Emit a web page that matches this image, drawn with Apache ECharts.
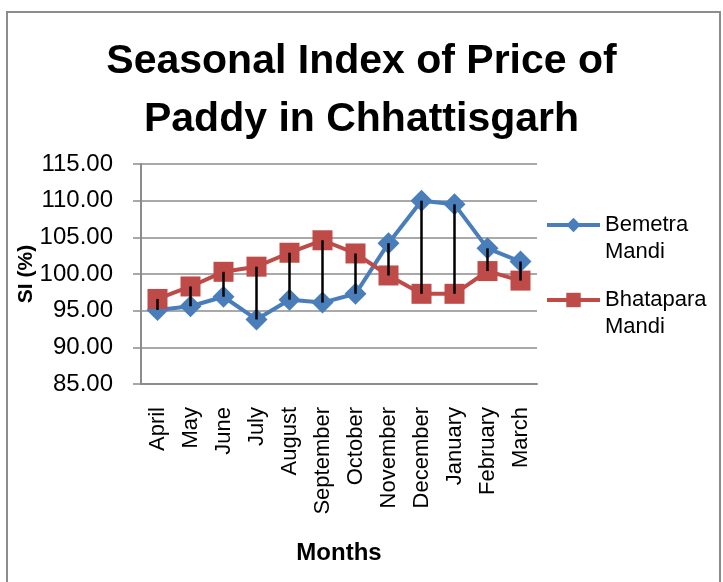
<!DOCTYPE html>
<html>
<head>
<meta charset="utf-8">
<script src="https://cdn.jsdelivr.net/npm/echarts@6/dist/echarts.min.js"></script>
<style>html,body{margin:0;padding:0;background:#fff}#c{width:723px;height:582px}</style>
</head>
<body>
<div id="c"></div>
<script>
const months = ["April","May","June","July","August","September","October","November","December","January","February","March"];
const bemetra = [95.1, 95.6, 96.9, 93.8, 96.5, 96.1, 97.3, 104.2, 110.0, 109.5, 103.5, 101.7];
const bhatapara = [96.6, 98.3, 100.3, 101.0, 102.9, 104.6, 102.8, 99.8, 97.3, 97.3, 100.4, 99.1];
const seriesNames = ["Bemetra Mandi", "Bhatapara Mandi"];
const yTicks = {min: 85, max: 115, step: 5};

const FONT = "Liberation Sans, Arial, sans-serif";
const hiLow = months.map((m, i) => [i, Math.min(bemetra[i], bhatapara[i]), Math.max(bemetra[i], bhatapara[i])]);

const chart = echarts.init(document.getElementById('c'), null, {renderer: 'canvas'});
function legendFor(name, top) {
  return {
    data: [name], left: 545, top: top, padding: 0, orient: 'vertical',
    itemWidth: 53, itemHeight: 18,
    lineStyle: {width: 4},
    formatter: n => '\n' + n.replace(' ', '\n'),
    textStyle: {fontFamily: FONT, fontSize: 22, color: '#000', lineHeight: 27}
  };
}
chart.setOption({
  animation: false,
  backgroundColor: '#fff',
  graphic: [{type: 'rect', shape: {x: 7, y: 12, width: 713, height: 580}, style: {fill: 'none', stroke: '#8c8c8c', lineWidth: 2}, z: -1}],
  title: {
    text: 'Seasonal Index of Price of\nPaddy in Chhattisgarh',
    left: 'center', top: 28,
    textStyle: {fontFamily: FONT, fontWeight: 'bold', fontSize: 41, lineHeight: 58, color: '#000'}
  },
  legend: [legendFor(seriesNames[0], 184.5), legendFor(seriesNames[1], 259.5)],
  grid: {left: 141, right: 186, top: 164, bottom: 198, containLabel: false},
  xAxis: {
    type: 'category', data: months, boundaryGap: true,
    axisLine: {lineStyle: {color: '#8c8c8c', width: 2}},
    axisTick: {show: false},
    axisLabel: {rotate: 90, fontFamily: FONT, fontSize: 22, color: '#000', margin: 23, interval: 0},
    name: 'Months', nameLocation: 'middle', nameGap: 157, nameMoveOverlap: false,
    nameTextStyle: {fontFamily: FONT, fontWeight: 'bold', fontSize: 24, color: '#000'}
  },
  yAxis: {
    type: 'value', min: yTicks.min, max: yTicks.max, interval: yTicks.step,
    axisLine: {show: true, lineStyle: {color: '#8c8c8c', width: 2}},
    axisTick: {show: true, inside: false, length: 8, lineStyle: {color: '#8c8c8c', width: 1.5}},
    splitLine: {lineStyle: {color: '#8c8c8c', width: 1.5}},
    axisLabel: {fontFamily: FONT, fontSize: 24, color: '#000', margin: 28, formatter: v => v.toFixed(2)},
    name: 'SI (%)', nameLocation: 'middle', nameGap: 104, nameRotate: 90, nameMoveOverlap: false,
    nameTextStyle: {fontFamily: FONT, fontWeight: 'bold', fontSize: 21, color: '#000'}
  },
  series: [
    {name: seriesNames[0], type: 'line', data: bemetra, symbol: 'diamond', symbolSize: 22,
     lineStyle: {color: '#4A7EBB', width: 4}, itemStyle: {color: '#4A7EBB'}, z: 3},
    {name: seriesNames[1], type: 'line', data: bhatapara, symbol: 'rect', symbolSize: 20,
     lineStyle: {color: '#BE4B48', width: 4}, itemStyle: {color: '#BE4B48'}, z: 3},
    {type: 'custom', name: 'hilow', data: hiLow, z: 10, silent: true,
     encode: {x: 0, y: [1, 2]},
     renderItem: (params, api) => {
       const p1 = api.coord([api.value(0), api.value(1)]);
       const p2 = api.coord([api.value(0), api.value(2)]);
       return {type: 'line', shape: {x1: p1[0], y1: p1[1], x2: p2[0], y2: p2[1]}, style: {stroke: '#000', lineWidth: 2.5}};
     }}
  ]
});
</script>
</body>
</html>
